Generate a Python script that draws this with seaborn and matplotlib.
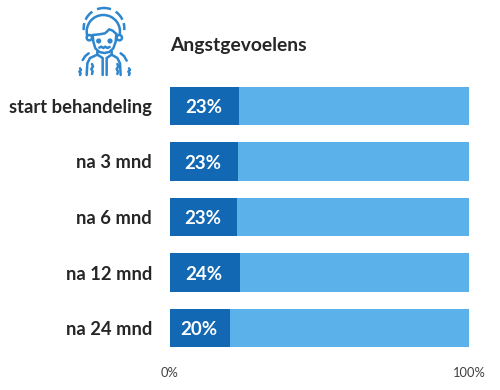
import numpy as np
import pandas as pd
import matplotlib
matplotlib.use('Agg')
import matplotlib.pyplot as plt
from matplotlib.patches import Arc, Circle
import seaborn as sns

categories = ['start behandeling', 'na 3 mnd', 'na 6 mnd', 'na 12 mnd', 'na 24 mnd']
values = [23, 23, 23, 24, 20]
bar_ends = [23, 22.7, 22.4, 23.4, 20]
totals = [100, 100, 100, 100, 100]
title = 'Angstgevoelens'
tick_labels = ['0%', '100%']

dark = '#1268B3'
light = '#5BB2EA'
ink = '#262626'

sns.set_theme(style='white')
plt.rcParams['font.family'] = ['Lato', 'DejaVu Sans']

W, H = 500, 390
fig = plt.figure(figsize=(W / 100, H / 100), dpi=100)
ax = fig.add_axes([170 / W, 1 - 355.75 / H, 299 / W, 277.5 / H])

df = pd.DataFrame({'cat': categories, 'val': values, 'end': bar_ends, 'total': totals})
sns.barplot(data=df, y='cat', x='total', color=light, saturation=1, width=0.69, linewidth=0, ax=ax)
sns.barplot(data=df, y='cat', x='end', color=dark, saturation=1, width=0.69, linewidth=0, ax=ax)

for i, v in enumerate(values):
    ax.text(df['end'][i] / 2 - 0.3, i + 0.03, f'{v}%', color='white', fontsize=13.5,
            fontweight='bold', ha='center', va='center')

ax.set_xlim(0, 100)
ax.set_xlabel('')
ax.set_ylabel('')
ax.set_xticks([0, 100])
ax.set_xticklabels(tick_labels, fontsize=9.3, color='#404040')
ax.tick_params(axis='x', length=0, pad=8)
ax.tick_params(axis='y', length=0, pad=13)
for lab in ax.get_yticklabels():
    lab.set_fontsize(13.2)
    lab.set_fontweight('bold')
    lab.set_color(ink)
sns.despine(ax=ax, left=True, bottom=True, top=True, right=True)

fig.text(170 / W, 1 - 46 / H, title, fontsize=13.9, fontweight='bold', color=ink,
         ha='left', va='center')

# icon, coordinates from the 3x crop of the region (60,0)-(160,85)
ic = fig.add_axes([60 / W, 1 - 85 / H, 100 / W, 85 / H])
ic.set_xlim(0, 300)
ic.set_ylim(255, 0)
ic.axis('off')
ic.patch.set_alpha(0)
blue = '#2E86CE'
lw = 1.8

def line(xs, ys):
    ic.plot(xs, ys, color=blue, lw=lw, solid_capstyle='round')

ic.add_patch(Arc((130, 95), 100, 100, theta1=165, theta2=15, color=blue, lw=lw))
for a1, a2 in [(250, 290), (205, 235), (305, 335), (175, 195), (345, 5)]:
    ic.add_patch(Arc((132, 85), 122, 122, theta1=a1, theta2=a2, color=blue, lw=lw))
ic.add_patch(Circle((88, 113), 8, fill=False, color=blue, lw=lw))
ic.add_patch(Circle((178, 113), 8, fill=False, color=blue, lw=lw))
ic.add_patch(Circle((116, 123), 4, fill=False, color=blue, lw=lw))
ic.add_patch(Circle((150, 123), 4, fill=False, color=blue, lw=lw))
line([98, 100, 106, 118, 133, 148, 160, 167, 169],
     [105, 125, 145, 156, 159, 156, 145, 125, 102])
line([98, 118, 135, 148, 158, 169], [105, 103, 100, 88, 92, 102])
line([118, 124, 130, 136, 142, 149], [143, 140, 144, 140, 144, 141])
line([112, 112, 128, 128], [154, 164, 174, 225])
line([155, 155, 140, 140], [154, 164, 174, 225])
line([112, 90, 82, 80], [164, 174, 190, 225])
line([155, 172, 180, 182], [164, 174, 190, 225])
line([68, 76, 86], [180, 168, 160])
line([182, 192, 200], [160, 168, 182])
for x0, y0, y1 in [(60, 205, 225), (96, 192, 222), (172, 192, 222), (207, 205, 225)]:
    line([x0, x0 + 3, x0 - 2, x0 + 2, x0], np.linspace(y0, y1, 5))

fig.savefig('out.png', dpi=100, facecolor='white')
